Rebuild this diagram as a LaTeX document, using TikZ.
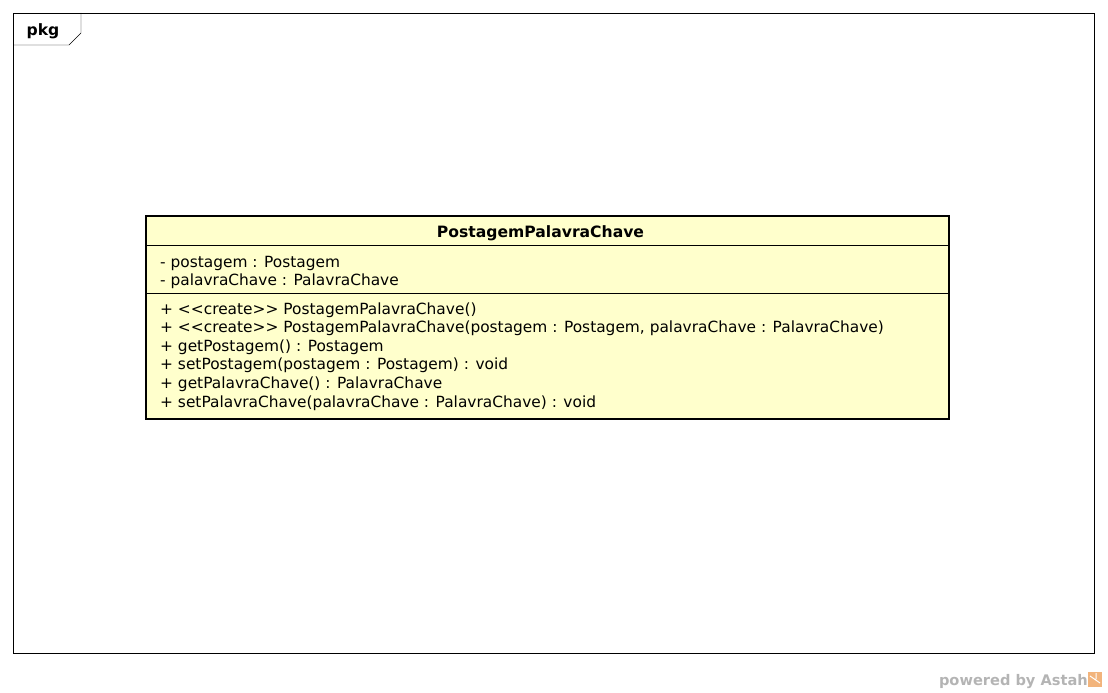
\documentclass[tikz,border=0pt]{standalone}
\usepackage{fontspec}
\setmainfont{DejaVu Sans}
\usepackage{tikz}
\usetikzlibrary{positioning}

\definecolor{classfill}{HTML}{FFFFCC}
\definecolor{astahgray}{HTML}{B4B4B4}
\definecolor{astahorange}{HTML}{F2B47C}

\begin{document}
\begin{tikzpicture}
        [x=1pt,y=-1pt,thin,
        member/.style={anchor=base west,inner sep=0pt,font=\fontsize{15.4}{17}\selectfont},
        title text/.style={anchor=base,inner sep=0pt,font=\fontsize{15.6}{17}\selectfont\bfseries}]
    \useasboundingbox (0,0) rectangle (1108,693);

    % frame with tab
    \draw (13,13) rectangle (1094,653);
    \draw (13,45) -- (69,45) -- (81,33) -- (81,13);
    \node[title text] (pkg) at (43,36) {pkg};

    % class box
    \coordinate (nw) at (146,216);
    \coordinate (se) at (949,419);
    \draw[line width=2pt,fill=classfill] (nw) rectangle (se);
    \draw (146,245) -- (949,245);
    \draw (146,293) -- (949,293);
    \node[title text] (name) at (540.5,237) {PostagemPalavraChave};

    \node[member] (a1) at (160,267) {- postagem : Postagem};
    \node[member] (a2) at (160,285.5) {- palavraChave : PalavraChave};

    \node[member] (m1) at (160,314) {+ <{}<create>{}> PostagemPalavraChave()};
    \node[member] (m2) at (160,332.5) {+ <{}<create>{}> PostagemPalavraChave(postagem : Postagem, palavraChave : PalavraChave)};
    \node[member] (m3) at (160,351) {+ getPostagem() : Postagem};
    \node[member] (m4) at (160,369.5) {+ setPostagem(postagem : Postagem) : void};
    \node[member] (m5) at (160,388) {+ getPalavraChave() : PalavraChave};
    \node[member] (m6) at (160,407) {+ setPalavraChave(palavraChave : PalavraChave) : void};

    % footer
    \node[anchor=base east,inner sep=0pt,text=astahgray,font=\fontsize{14.6}{17}\selectfont\bfseries] (powered) at (1088,685) {powered by Astah};
    \fill[astahorange] (1088,672) rectangle (1102,687);
    \draw[white,line width=1pt] (1090,676) -- (1100,683) (1096,673) -- (1096,679);

\end{tikzpicture}
\end{document}
